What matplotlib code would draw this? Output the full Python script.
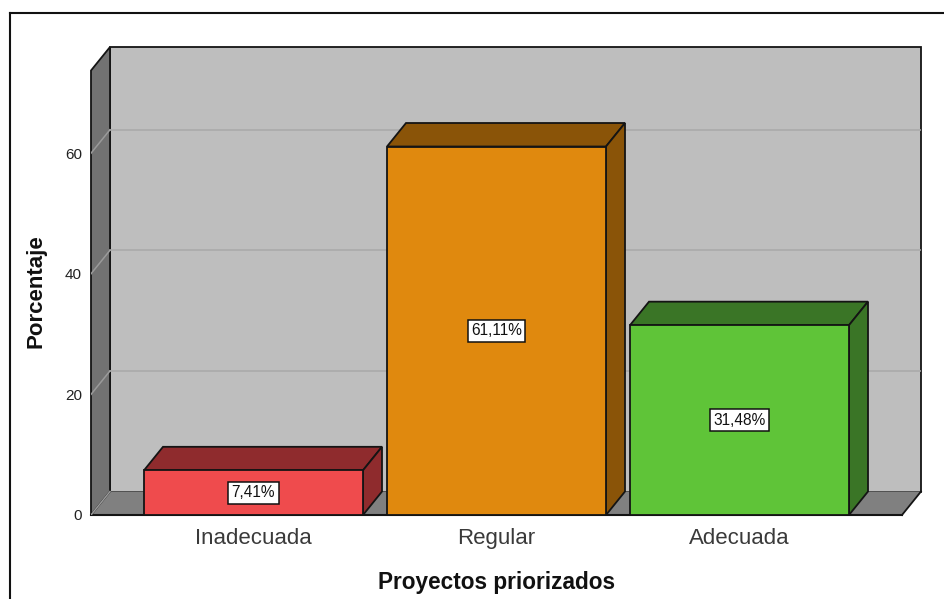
import matplotlib
matplotlib.use("Agg")
import matplotlib.pyplot as plt
from matplotlib.patches import Polygon
from matplotlib.lines import Line2D

plt.rcParams['font.family'] = ['Liberation Sans', 'DejaVu Sans']

categories = ["Inadecuada", "Regular", "Adecuada"]
values = [7.41, 61.11, 31.48]
value_labels = ["7,41%", "61,11%", "31,48%"]
front_colors = ["#EF4B4D", "#E0890E", "#5FC438"]
dark_colors = ["#8F2B2D", "#8A5408", "#3A7526"]
y_ticks = [0, 20, 40, 60]
x_axis_title = "Proyectos priorizados"
y_axis_title = "Porcentaje"

W, H = 945, 599
L, R, T, B = 91, 921, 47, 515
PX_Y = 6.03
PX_X = 243.0
X0 = 253.5
DX = 19 / PX_X
DY = 23.5 / PX_Y
BAR_W = 219 / PX_X
EDGE = "#141414"

fig = plt.figure(figsize=(W / 100, H / 100), dpi=100, facecolor="white")
ax = fig.add_axes([L / W, 1 - B / H, (R - L) / W, (B - T) / H])
ax.set_xlim((L - X0) / PX_X, (R - X0) / PX_X)
ax.set_ylim(0, (B - T) / PX_Y)
ax.patch.set_visible(False)
for s in ax.spines.values():
    s.set_visible(False)

x_left = ax.get_xlim()[0]
x_right = ax.get_xlim()[1] - DX
y_top = ax.get_ylim()[1] - DY

def poly(points, fc, ec=EDGE, lw=1.3, z=1):
    ax.add_patch(Polygon(points, closed=True, facecolor=fc, edgecolor=ec, linewidth=lw,
                         joinstyle="miter", clip_on=False, zorder=z))

# back wall, floor, left wall
poly([(x_left + DX, DY), (x_right + DX, DY), (x_right + DX, y_top + DY), (x_left + DX, y_top + DY)], "#BEBEBE", z=1)
poly([(x_left, 0), (x_right, 0), (x_right + DX, DY), (x_left + DX, DY)], "#808080", ec="none", z=1.5)
poly([(x_left, 0), (x_left + DX, DY), (x_left + DX, y_top + DY), (x_left, y_top)], "#727272", z=1.6)
ax.plot([x_right, x_right + DX], [0, DY], color=EDGE, lw=1.3, zorder=1.7, clip_on=False)
ax.plot([x_left, x_right], [0, 0], color=EDGE, lw=1.5, zorder=1.7, clip_on=False)

# grid lines on the back and side walls
for v in y_ticks:
    ax.plot([x_left, x_left + DX], [v, v + DY], color="#9A9A9A", lw=1.1, zorder=1.8)
    if v > 0:
        ax.plot([x_left + DX, x_right + DX], [v + DY, v + DY], color="#A9A9A9", lw=1.1, zorder=1.8)

# bars
for i, (v, lab, fc, dc) in enumerate(zip(values, value_labels, front_colors, dark_colors)):
    l, r = i - BAR_W / 2, i + BAR_W / 2
    z = 3 + i
    poly([(l, v), (r, v), (r + DX, v + DY), (l + DX, v + DY)], dc, z=z)
    poly([(r, 0), (r + DX, DY), (r + DX, v + DY), (r, v)], dc, z=z)
    poly([(l, 0), (r, 0), (r, v), (l, v)], fc, z=z + 0.1)
    ax.text(i, v / 2, lab, ha="center", va="center", fontsize=11.2, color="#111111", zorder=10,
            bbox=dict(boxstyle="square,pad=0.22", facecolor="white", edgecolor="#111111", linewidth=1.1))

ax.set_xticks(range(len(categories)), categories)
ax.set_yticks(y_ticks, [str(t) for t in y_ticks])
ax.tick_params(axis="x", length=0, pad=9.5, labelsize=16, labelcolor="#3A3A3A")
ax.tick_params(axis="y", length=0, pad=6.5, labelsize=11, labelcolor="#222222")

fig.text(496.5 / W, 1 - 583 / H, x_axis_title, ha="center", va="center", fontsize=16.3, fontweight="bold", color="#111111")
fig.text(36 / W, 1 - 291 / H, y_axis_title, ha="center", va="center", rotation=90, fontsize=16, fontweight="bold", color="#111111")

# outer frame (top and left only are visible in the crop)
fig.add_artist(Line2D([10 / W, 10 / W], [0, 1 - 13 / H], transform=fig.transFigure, color="#111111", lw=1.5))
fig.add_artist(Line2D([10 / W, 1], [1 - 13 / H, 1 - 13 / H], transform=fig.transFigure, color="#111111", lw=1.5))

fig.savefig("out.png", dpi=100)
